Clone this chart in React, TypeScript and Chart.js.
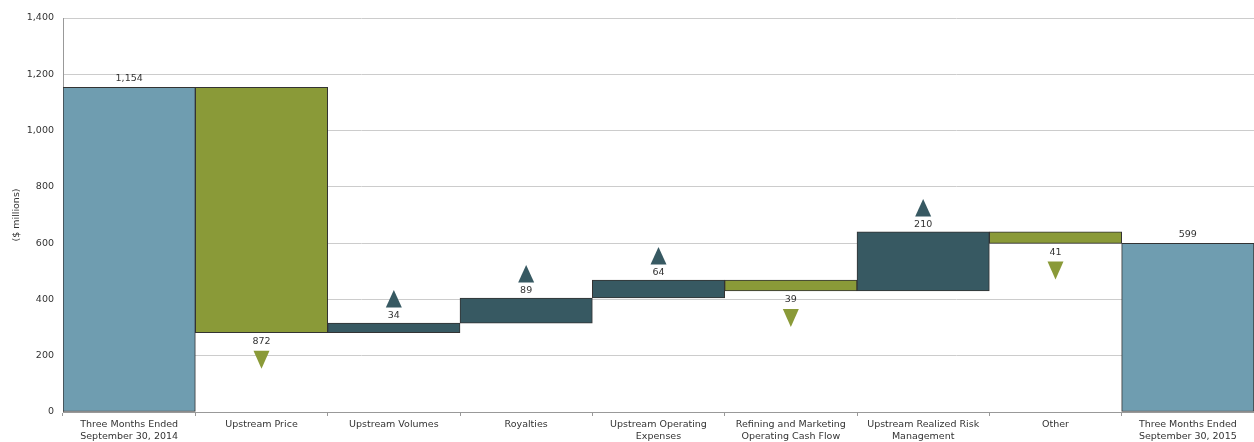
import React, { useEffect, useRef } from "react";
import { Chart, registerables } from "chart.js";

Chart.register(...registerables);

const categories: string[][] = [
  ["Three Months Ended", "September 30, 2014"],
  ["Upstream Price"],
  ["Upstream Volumes"],
  ["Royalties"],
  ["Upstream Operating", "Expenses"],
  ["Refining and Marketing", "Operating Cash Flow"],
  ["Upstream Realized Risk", "Management"],
  ["Other"],
  ["Three Months Ended", "September 30, 2015"],
];

const startTotal = 1154;
const deltas = [-872, 34, 89, 64, -39, 210, -41];
const endTotal = 599;

const yTicks = [0, 200, 400, 600, 800, 1000, 1200, 1400];

const COLOR_TOTAL = "#6f9db0";
const COLOR_DOWN = "#8a9a38";
const COLOR_UP = "#375962";
const FONT = '"DejaVu Sans", Verdana, sans-serif';
const FS = 9.5;

// floating ranges built from the values
const ranges: [number, number][] = [];
const kinds: ("total" | "up" | "down")[] = [];
const amounts: number[] = [];
ranges.push([0, startTotal]);
kinds.push("total");
amounts.push(startTotal);
let running = startTotal;
deltas.forEach((d) => {
  const next = running + d;
  ranges.push([Math.min(running, next), Math.max(running, next)]);
  kinds.push(d >= 0 ? "up" : "down");
  amounts.push(Math.abs(d));
  running = next;
});
ranges.push([0, endTotal]);
kinds.push("total");
amounts.push(endTotal);

const colors = kinds.map((k) => (k === "total" ? COLOR_TOTAL : k === "up" ? COLOR_UP : COLOR_DOWN));

const fmt = (v: number) => v.toString().replace(/\B(?=(\d{3})+(?!\d))/g, ",");

const marksPlugin = {
  id: "waterfallMarks",
  afterDatasetsDraw(chart: any) {
    const ctx = chart.ctx as CanvasRenderingContext2D;
    const meta = chart.getDatasetMeta(0);
    ctx.save();
    ctx.font = `${FS}px ${FONT}`;
    ctx.textAlign = "center";
    ctx.textBaseline = "middle";
    meta.data.forEach((el: any, i: number) => {
      const { x, y, base } = el.getProps(["x", "y", "base"], true);
      const top = Math.min(y, base);
      const bottom = Math.max(y, base);
      const kind = kinds[i];
      const text = fmt(amounts[i]);
      ctx.fillStyle = "#333";
      if (kind === "total") {
        ctx.fillText(text, x, top - 9);
      } else if (kind === "up") {
        ctx.fillText(text, x, top - 7.5);
        ctx.fillStyle = COLOR_UP;
        ctx.beginPath();
        ctx.moveTo(x - 8, top - 15.5);
        ctx.lineTo(x + 8, top - 15.5);
        ctx.lineTo(x, top - 33);
        ctx.closePath();
        ctx.fill();
      } else {
        ctx.fillText(text, x, bottom + 9);
        ctx.fillStyle = COLOR_DOWN;
        ctx.beginPath();
        ctx.moveTo(x - 8, bottom + 18);
        ctx.lineTo(x + 8, bottom + 18);
        ctx.lineTo(x, bottom + 36);
        ctx.closePath();
        ctx.fill();
      }
    });
    ctx.restore();
  },
};

export default function App() {
  const ref = useRef<HTMLCanvasElement | null>(null);
  useEffect(() => {
    if (!ref.current) return;
    const chart = new Chart(ref.current, {
      type: "bar",
      data: {
        labels: categories,
        datasets: [
          {
            data: ranges as any,
            backgroundColor: colors,
            borderColor: "#333",
            borderWidth: 1,
            borderSkipped: false,
            barPercentage: 1,
            categoryPercentage: 1,
          },
        ],
      },
      options: {
        animation: false,
        responsive: false,
        layout: { padding: { top: 18, right: 0, left: 0, bottom: 0 } },
        plugins: { legend: { display: false }, tooltip: { enabled: false } },
        scales: {
          x: {
            grid: {
              offset: true,
              drawOnChartArea: false,
              drawTicks: true,
              tickLength: 4,
              color: "#999",
            },
            border: { color: "#999" },
            ticks: {
              color: "#333",
              padding: 3,
              maxRotation: 0,
              autoSkip: false,
              font: { family: FONT, size: FS },
            },
            afterFit: (s: any) => {
              s.height = 30;
            },
          },
          y: {
            min: 0,
            max: 1400,
            afterBuildTicks: (s: any) => {
              s.ticks = yTicks.map((v) => ({ value: v }));
            },
            grid: { color: "#cccccc", drawTicks: false },
            border: { color: "#999" },
            ticks: {
              color: "#333",
              padding: 9,
              font: { family: FONT, size: FS },
              callback: (v: any) => fmt(Number(v)),
            },
            title: {
              display: true,
              text: "($ millions)",
              color: "#333",
              font: { family: FONT, size: FS },
              padding: { top: 11, bottom: 0 },
            },
            afterFit: (s: any) => {
              s.width = 63;
            },
          },
        },
      },
      plugins: [marksPlugin],
    });
    return () => chart.destroy();
  }, []);
  return (
    <div style={{ position: "absolute", left: 0, top: 0, width: 1254, height: 442, background: "#fff" }}>
      <canvas ref={ref} width={1254} height={442} style={{ width: 1254, height: 442, display: "block" }} />
    </div>
  );
}
